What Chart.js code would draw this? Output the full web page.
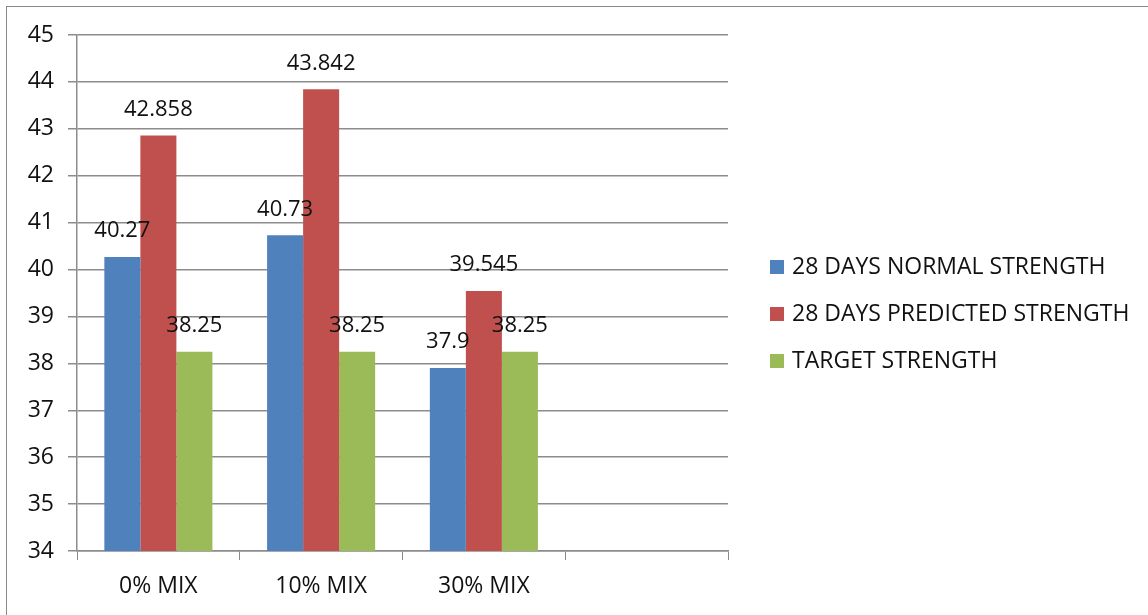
<!DOCTYPE html>
<html>
<head>
<meta charset="utf-8">
<script src="https://cdn.jsdelivr.net/npm/chart.js@4.4.1/dist/chart.umd.min.js"></script>
<style>
  html, body { margin: 0; padding: 0; background: #fff; }
  #wrap { position: relative; width: 1148px; height: 615px; overflow: hidden; }
  #frame { position: absolute; left: 6px; top: 6px; width: 1160px; height: 640px; border: 1.5px solid #8a8a8a; box-sizing: border-box; }
  canvas { position: absolute; left: 0; top: 0; }
  #legend { position: absolute; left: 770px; top: 249px; font-family: "Open Sans", sans-serif; font-size: 23px; color: #111; }
  #legend div { height: 47px; line-height: 32px; white-space: nowrap; }
  #legend span { display: inline-block; width: 14px; height: 14px; margin-right: 8px; vertical-align: 0px; }
</style>
</head>
<body>
<div id="wrap">
  <div id="frame"></div>
  <canvas id="chart" width="1148" height="615"></canvas>
  <div id="legend"></div>
</div>
<script>
const categories = ["0% MIX", "10% MIX", "30% MIX", ""];
const normalStrength = [40.27, 40.73, 37.9, null];
const predictedStrength = [42.858, 43.842, 39.545, null];
const targetStrength = [38.25, 38.25, 38.25, null];
const seriesNames = ["28 DAYS NORMAL STRENGTH", "28 DAYS PREDICTED STRENGTH", "TARGET STRENGTH"];
const seriesColors = ["#4F81BD", "#C0504D", "#9BBB59"];

const gridColor = "#8c8c8c";
const labelFont = { family: "Open Sans", size: 22 };
const axisFont = { family: "Open Sans", size: 23 };

const valueLabels = {
  id: "valueLabels",
  afterDatasetsDraw(chart) {
    const ctx = chart.ctx;
    ctx.save();
    ctx.font = `${labelFont.size}px "${labelFont.family}"`;
    ctx.fillStyle = "#111";
    ctx.textAlign = "center";
    ctx.textBaseline = "middle";
    chart.data.datasets.forEach((ds, i) => {
      chart.getDatasetMeta(i).data.forEach((bar, j) => {
        const v = ds.data[j];
        if (v == null) return;
        ctx.fillText(String(v), bar.x, bar.y - 26);
      });
    });
    ctx.restore();
  },
};

new Chart(document.getElementById("chart"), {
  type: "bar",
  data: {
    labels: categories,
    datasets: [normalStrength, predictedStrength, targetStrength].map((d, i) => ({
      label: seriesNames[i],
      data: d,
      backgroundColor: seriesColors[i],
      categoryPercentage: 0.664,
      barPercentage: 1,
    })),
  },
  options: {
    responsive: false,
    animation: false,
    layout: { padding: { left: 0, right: 420, top: 35, bottom: 0 } },
    plugins: { legend: { display: false }, tooltip: { enabled: false } },
    scales: {
      x: {
        grid: { offset: true, drawOnChartArea: false, drawTicks: true, tickLength: 9, color: gridColor },
        border: { display: true, color: gridColor, width: 1.5 },
        ticks: { font: axisFont, color: "#111", padding: 13, maxRotation: 0 },
        afterFit: (s) => { s.height = 64; },
      },
      y: {
        min: 34,
        max: 45,
        ticks: { stepSize: 1, font: axisFont, color: "#111", padding: 14 },
        grid: { color: gridColor, lineWidth: 1.5, tickLength: 9 },
        border: { display: true, color: gridColor, width: 1.5 },
        afterFit: (s) => { s.width = 77; },
      },
    },
  },
  plugins: [valueLabels],
});

const legend = document.getElementById("legend");
seriesNames.forEach((name, i) => {
  const row = document.createElement("div");
  row.innerHTML = `<span style="background:${seriesColors[i]}"></span>${name}`;
  legend.appendChild(row);
});
</script>
</body>
</html>
